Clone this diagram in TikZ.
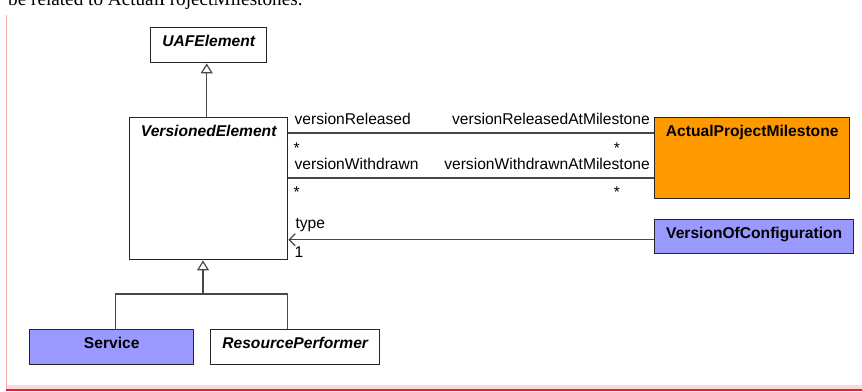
\documentclass[tikz,border=0pt]{standalone}
\usepackage{fontspec}
\setmainfont{Liberation Sans}
\newfontfamily\bodyserif{Liberation Serif}
\usetikzlibrary{arrows.meta}
\definecolor{umlorange}{RGB}{255,153,0}
\definecolor{umlblue}{RGB}{153,153,255}
\definecolor{umlline}{RGB}{72,72,72}
\definecolor{pagepink}{RGB}{244,170,176}
\definecolor{pageband}{RGB}{250,216,220}
\definecolor{pagered}{RGB}{226,36,48}

\begin{document}
\begin{tikzpicture}[x=1pt,y=-1pt,font=\fontsize{15.6}{18}\selectfont,
 box/.style={draw=black!85,line width=1.4pt,anchor=north west,inner sep=0pt},
 title/.style={anchor=north,inner sep=0pt,yshift=-7.5pt,font=\fontsize{15.6}{18}\selectfont\bfseries},
 role/.style={inner sep=0pt},
 link/.style={draw=umlline,line width=1.2pt},
 gen/.style={link,-{Triangle[open,length=10pt,width=12pt]}},
 nav/.style={link,-{Straight Barb[length=6pt,width=12pt]}}]
\useasboundingbox (0,0) rectangle (862,391);
\clip (0,0) rectangle (862,391);
% page edge
\node[anchor=base west,inner sep=0pt,font=\fontsize{19.2}{22}\bodyserif] (intro) at (8,5.5) {be related to ActualProjectMilestones.};
\draw[pagepink,line width=1pt] (6.5,15) -- (6.5,390);
\fill[pageband] (7,385) rectangle (862,389);
\draw[pagered,line width=1.5pt] (6,390.2) -- (862,390.2);

% classes
\node[box,minimum width=116,minimum height=35] (uaf) at (150,27) {};
\node[box,minimum width=158,minimum height=142] (versioned) at (129,117) {};
\node[box,fill=umlorange,minimum width=195,minimum height=81] (milestone) at (654,117) {};
\node[box,fill=umlblue,minimum width=199,minimum height=34] (config) at (654,219) {};
\node[box,fill=umlblue,minimum width=164,minimum height=35] (service) at (29,329) {};
\node[box,minimum width=169,minimum height=35] (performer) at (210,329) {};
\node[title] (uaft) at (uaf.north) {\itshape UAFElement};
\node[title] (versionedt) at (versioned.north) {\itshape VersionedElement};
\node[title] (milestonet) at (milestone.north) {ActualProjectMilestone};
\node[title] (configt) at (config.north) {VersionOfConfiguration};
\node[title] (servicet) at (service.north) {Service};
\node[title] (performert) at (performer.north) {\itshape ResourcePerformer};

% generalizations
\draw[gen] ([xshift=-2pt]versioned.north) -- ([xshift=-2pt]uaf.south);
\coordinate (fork) at (203,294);
\draw[link] ([xshift=4pt]service.north) |- (fork) -| ([xshift=-7.5pt]performer.north);
\draw[gen] (fork) -- (fork |- versioned.south);

% associations
\coordinate (relA) at ([yshift=-16pt]versioned.north east);
\coordinate (relB) at ([yshift=-16pt]milestone.north west);
\coordinate (wdrA) at ([yshift=-61pt]versioned.north east);
\coordinate (wdrB) at ([yshift=-61pt]milestone.north west);
\draw[link] (relA) -- (relB);
\draw[link] (wdrA) -- (wdrB);
\node[role,anchor=base west] (relname) at ([shift={(6,-9)}]relA) {versionReleased};
\node[role,anchor=base east] (relend) at ([shift={(-4,-9)}]relB) {versionReleasedAtMilestone};
\node[role,anchor=base west] (relmulA) at ([shift={(5,20)}]relA) {*};
\node[role,anchor=base] (relmulB) at ([shift={(-37,20)}]relB) {*};
\node[role,anchor=base west] (wdrname) at ([shift={(6,-9)}]wdrA) {versionWithdrawn};
\node[role,anchor=base east] (wdrend) at ([shift={(-4,-9)}]wdrB) {versionWithdrawnAtMilestone};
\node[role,anchor=base west] (wdrmulA) at ([shift={(5,19)}]wdrA) {*};
\node[role,anchor=base] (wdrmulB) at ([shift={(-37,19)}]wdrB) {*};

% typed reference
\coordinate (typeB) at ([yshift=-3pt]config.west);
\coordinate (typeA) at (typeB -| versioned.east);
\draw[nav] (typeB) -- (typeA);
\node[role,anchor=base west] (typename) at ([shift={(7,-11)}]typeA) {type};
\node[role,anchor=base west] (typemul) at ([shift={(6,18)}]typeA) {1};
\end{tikzpicture}
\end{document}
